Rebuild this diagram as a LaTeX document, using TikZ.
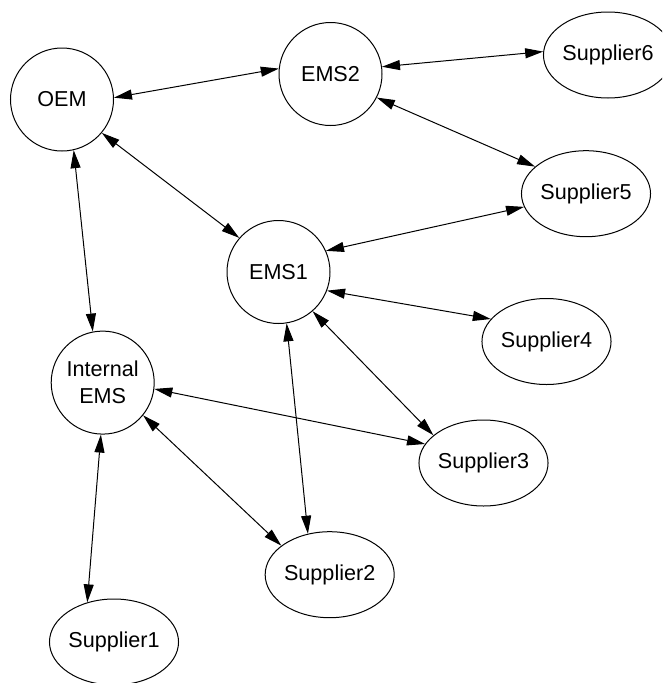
\documentclass[tikz,border=0pt]{standalone}
\usepackage{fontspec}
\setmainfont{Liberation Sans}
\usetikzlibrary{arrows.meta,shapes.geometric}
\begin{document}
\begin{tikzpicture}[x=1pt,y=-1pt,
  font=\fontsize{21.6}{26.7}\selectfont,
  circ/.style={draw,circle,line width=1pt,minimum size=103pt,inner sep=0pt,align=center},
  ell/.style={draw,ellipse,line width=1pt,minimum width=128pt,minimum height=86pt,inner sep=0pt},
  link/.style={line width=1pt,{Triangle[length=18pt,width=10pt]}-{Triangle[length=18pt,width=10pt]}}]
\path[use as bounding box] (0,0) rectangle (662,683);
\begin{scope}
\clip (0,0) rectangle (662,683);
\node[circ] (OEM) at (62,99.5) {OEM};
\node[circ] (EMS2) at (330.5,74) {EMS2};
\node[ell] (S6) at (608,55) {Supplier6};
\node[ell] (S5) at (586,193.7) {Supplier5};
\node[circ] (EMS1) at (278.5,272) {EMS1};
\node[ell] (S4) at (546.5,341.5) {Supplier4};
\node[circ] (IEMS) at (102.7,382.6) {Internal\\EMS};
\node[ell] (S3) at (483.5,463) {Supplier3};
\node[ell] (S2) at (329.7,574.7) {Supplier2};
\node[ell] (S1) at (114,642) {Supplier1};
\end{scope}
\draw[link] (OEM.2.5) -- (EMS2.174.8);
\draw[link] (OEM.-40.2) -- (EMS1.139.3);
\draw[link] (OEM.-77.7) -- (IEMS.101.9);
\draw[link] (EMS2.8.7) -- (S6.177.3);
\draw[link] (EMS2.-27.7) -- (S5.152.4);
\draw[link] (EMS1.24.6) -- (S5.192);
\draw[link] (EMS1.-21.1) -- (S4.158.6);
\draw[link] (EMS1.-49.7) -- (S3.151.1);
\draw[link] (EMS1.-81.4) -- (S2.118.6);
\draw[link] (IEMS.-7.4) -- (S3.162.3);
\draw[link] (IEMS.-39.4) -- (S2.149);
\draw[link] (IEMS.-92.8) -- (S1.124.3);
\end{tikzpicture}
\end{document}
